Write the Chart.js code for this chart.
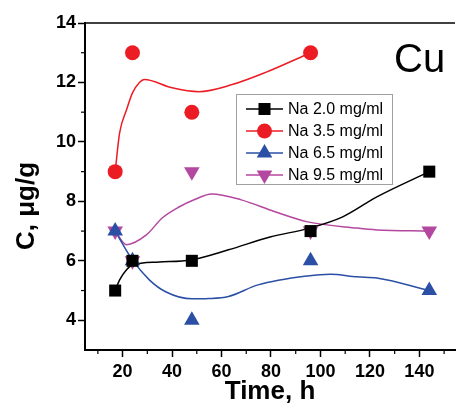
<!DOCTYPE html>
<html>
<head>
<meta charset="utf-8">
<script src="https://cdn.jsdelivr.net/npm/chart.js"></script>
<style>
  html, body { margin: 0; padding: 0; background: #fff; overflow: hidden; }
  #wrap { width: 464px; height: 409px; }
</style>
</head>
<body>
<div id="wrap"><canvas id="chart"></canvas></div>
<script>
var seriesNames = ['Na 2.0 mg/ml', 'Na 3.5 mg/ml', 'Na 6.5 mg/ml', 'Na 9.5 mg/ml'];

// measured points
var timeNa20 = [17, 24, 48, 96, 144];
var cNa20 = [5, 6, 6, 7, 9];
var timeNa35 = [17, 24, 48, 96];
var cNa35 = [9, 13, 11, 13];
var timeNa65 = [17, 24, 48, 96, 144];
var cNa65 = [7, 6, 4, 6, 5];
var timeNa95 = [17, 24, 48, 96, 144];
var cNa95 = [7, 6, 9, 7, 7];

// smoothed curves as drawn in the figure
var fitTimeNa20 = [17, 18.8, 21.6, 24, 34.8, 47.6, 62.8, 79.6, 95.6, 109, 122.8, 144];
var fitNa20 = [5.0, 5.36, 5.7, 5.86, 5.96, 6.03, 6.37, 6.8, 7.1, 7.48, 8.15, 9.0];
var fitTimeNa35 = [17, 18.8, 21.6, 24, 26.8, 28.8, 40, 50.8, 64, 77.6, 96];
var fitNa35 = [9.0, 10.3, 11.08, 11.65, 12.0, 12.1, 11.82, 11.69, 11.92, 12.33, 13.0];
var fitTimeNa65 = [17, 24, 30.8, 37.6, 48, 54.8, 62.8, 74.8, 94.8, 104, 114.8, 122.8, 144];
var fitNa65 = [7.0, 6.03, 5.36, 4.95, 4.72, 4.73, 4.8, 5.19, 5.49, 5.55, 5.46, 5.42, 5.0];
var fitTimeNa95 = [17, 21.6, 29.6, 36, 42.8, 49.6, 56, 68, 81.6, 94.8, 114.8, 122.8, 144];
var fitNa95 = [7.0, 6.54, 6.87, 7.44, 7.81, 8.08, 8.25, 8.05, 7.65, 7.31, 7.1, 7.04, 7.0];

var xTicks = [20, 40, 60, 80, 100, 120, 140];
var xMinor = [10, 30, 50, 70, 90, 110, 130, 150];
var yTicks = [4, 6, 8, 10, 12, 14];
var yMinor = [5, 7, 9, 11, 13];

var colors = ['#000000', '#ec1c24', '#2a4fa5', '#b4479f'];
var styles = ['rect', 'circle', 'triangle', 'triangle'];
var rotations = [0, 0, 0, 180];
var radii = [8.5, 7.5, 9, 9];

function pts(xs, ys) {
  return xs.map(function (x, i) { return {x: x, y: ys[i]}; });
}

var pointSets = [pts(timeNa20, cNa20), pts(timeNa35, cNa35), pts(timeNa65, cNa65), pts(timeNa95, cNa95)];
var curveSets = [pts(fitTimeNa20, fitNa20), pts(fitTimeNa35, fitNa35), pts(fitTimeNa65, fitNa65), pts(fitTimeNa95, fitNa95)];

var datasets = [];
for (var i = 0; i < 4; i++) {
  datasets.push({
    label: seriesNames[i],
    data: pointSets[i],
    showLine: false,
    pointStyle: styles[i],
    rotation: rotations[i],
    pointRadius: radii[i],
    pointHoverRadius: radii[i],
    pointBackgroundColor: colors[i],
    pointBorderColor: colors[i],
    pointBorderWidth: 0
  });
}
for (var k = 0; k < 4; k++) {
  datasets.push({
    label: seriesNames[k] + ' fit',
    data: curveSets[k],
    showLine: true,
    borderColor: colors[k],
    borderWidth: 1.5,
    pointRadius: 0,
    pointHoverRadius: 0,
    tension: 0.4,
    cubicInterpolationMode: 'monotone'
  });
}

function drawMarker(ctx, style, rot, x, y, r) {
  ctx.beginPath();
  if (style === 'rect') {
    var s = Math.SQRT1_2 * r;
    ctx.rect(x - s, y - s, 2 * s, 2 * s);
  } else if (style === 'circle') {
    ctx.arc(x, y, r, 0, Math.PI * 2);
  } else {
    var a = rot * Math.PI / 180;
    for (var j = 0; j < 3; j++) {
      var px = x + Math.sin(a) * r, py = y - Math.cos(a) * r;
      if (j === 0) ctx.moveTo(px, py); else ctx.lineTo(px, py);
      a += Math.PI * 2 / 3;
    }
    ctx.closePath();
  }
  ctx.fill();
}

var extras = {
  id: 'extras',
  afterDraw: function (chart) {
    var ctx = chart.ctx, area = chart.chartArea;
    var xs = chart.scales.x, ys = chart.scales.y;
    ctx.save();
    ctx.strokeStyle = '#000';
    // top frame line
    ctx.lineWidth = 1.5;
    ctx.beginPath();
    ctx.moveTo(area.left, area.top);
    ctx.lineTo(area.right, area.top);
    ctx.stroke();
    // minor ticks
    ctx.lineWidth = 1.2;
    xMinor.forEach(function (v) {
      var px = xs.getPixelForValue(v);
      ctx.beginPath();
      ctx.moveTo(px, area.bottom);
      ctx.lineTo(px, area.bottom + 4);
      ctx.stroke();
    });
    yMinor.forEach(function (v) {
      var py = ys.getPixelForValue(v);
      ctx.beginPath();
      ctx.moveTo(area.left, py);
      ctx.lineTo(area.left - 4, py);
      ctx.stroke();
    });
    // y axis title
    ctx.save();
    ctx.translate(34, 206);
    ctx.rotate(-Math.PI / 2);
    ctx.fillStyle = '#000';
    ctx.font = 'bold 26px "Liberation Sans", Arial, sans-serif';
    ctx.textAlign = 'center';
    ctx.textBaseline = 'alphabetic';
    ctx.fillText('C, \u03bcg/g', 0, 0);
    ctx.restore();
    // element label
    ctx.fillStyle = '#000';
    ctx.font = '40px "Liberation Sans", Arial, sans-serif';
    ctx.textAlign = 'left';
    ctx.textBaseline = 'alphabetic';
    ctx.fillText('Cu', 394, 72);
    // legend
    ctx.strokeStyle = '#a0a0a0';
    ctx.lineWidth = 1;
    ctx.strokeRect(236.5, 94.5, 156, 90);
    ctx.font = '16px "Liberation Sans", Arial, sans-serif';
    ctx.textBaseline = 'middle';
    for (var i = 0; i < 4; i++) {
      var ry = 109 + i * 22;
      ctx.strokeStyle = colors[i];
      ctx.lineWidth = 1.5;
      ctx.beginPath();
      ctx.moveTo(246, ry);
      ctx.lineTo(283, ry);
      ctx.stroke();
      ctx.fillStyle = colors[i];
      drawMarker(ctx, styles[i], rotations[i], 264.5, ry, radii[i]);
      ctx.fillStyle = '#000';
      ctx.fillText(seriesNames[i], 288, ry + 1);
    }
    ctx.restore();
  }
};

var tickFont = {family: '"Liberation Sans", Arial, sans-serif', size: 18, weight: 'bold'};

new Chart(document.getElementById('chart'), {
  type: 'scatter',
  data: {datasets: datasets},
  options: {
    responsive: true,
    maintainAspectRatio: false,
    animation: false,
    layout: {padding: {top: 23, right: 0, bottom: 0, left: 0}},
    plugins: {legend: {display: false}, tooltip: {enabled: false}},
    scales: {
      x: {
        type: 'linear',
        min: 4.8,
        max: 154.4,
        afterFit: function (s) { s.height = 59; s.paddingLeft = 0; s.paddingRight = 0; },
        afterBuildTicks: function (s) { s.ticks = xTicks.map(function (v) { return {value: v}; }); },
        ticks: {font: tickFont, color: '#000', padding: 4, maxRotation: 0, autoSkip: false},
        grid: {drawOnChartArea: false, drawTicks: true, tickLength: 7, tickColor: '#000', tickWidth: 1.5},
        border: {display: true, color: '#000', width: 2},
        title: {
          display: true,
          text: 'Time, h',
          color: '#000',
          font: {family: '"Liberation Sans", Arial, sans-serif', size: 26, weight: 'bold'},
          padding: {top: 0, bottom: 2}
        }
      },
      y: {
        type: 'linear',
        min: 3,
        max: 14,
        afterFit: function (s) { s.width = 85; s.paddingTop = 0; s.paddingBottom = 0; },
        afterBuildTicks: function (s) { s.ticks = yTicks.map(function (v) { return {value: v}; }); },
        ticks: {font: tickFont, color: '#000', padding: 2},
        grid: {drawOnChartArea: false, drawTicks: true, tickLength: 7, tickColor: '#000', tickWidth: 1.5},
        border: {display: true, color: '#000', width: 2}
      }
    }
  },
  plugins: [extras]
});
</script>
</body>
</html>
